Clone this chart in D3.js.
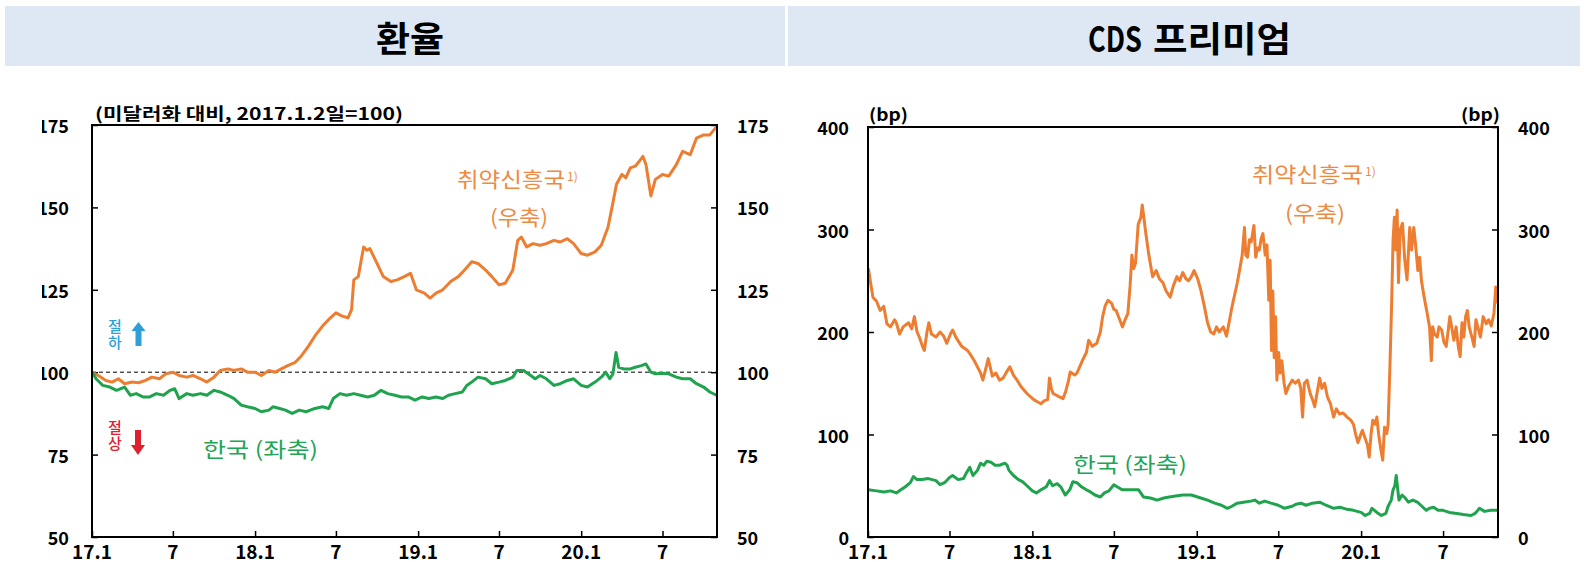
<!DOCTYPE html>
<html>
<head>
<meta charset="utf-8">
<script src="https://cdn.jsdelivr.net/npm/d3@7"></script>
<style>
  body { margin: 0; background: #fff; }
  svg { display: block; }
</style>
</head>
<body>
<svg id="chart" width="1584" height="563"></svg>
<script>
// ---- axis labels ----
const tickDates = ["2017-01-01", "2017-07-01", "2018-01-01", "2018-07-01", "2019-01-01", "2019-07-01", "2020-01-01", "2020-07-01"];
const tickLabels = ["17.1", "7", "18.1", "7", "19.1", "7", "20.1", "7"];
const fxTicks = [50, 75, 100, 125, 150, 175];
const cdsTicks = [0, 100, 200, 300, 400];

// ---- exchange rates vs USD (2017.1.2 = 100) ----
const fxEmerging = [
  ["2017-01-02",100],["2017-01-15",99],["2017-02-01",97.5],["2017-02-15",97],["2017-03-01",98],["2017-03-15",96.5],
  ["2017-04-01",97],["2017-04-15",96.8],["2017-05-01",97.5],["2017-05-15",98.5],["2017-06-01",98],["2017-06-15",99.5],
  ["2017-07-01",100],["2017-07-15",99],["2017-08-01",98.5],["2017-08-15",99],["2017-09-01",98],["2017-09-15",97],
  ["2017-10-01",98.5],["2017-10-15",100.5],["2017-11-01",101],["2017-11-15",100.5],["2017-12-01",101],["2017-12-15",100],
  ["2018-01-01",100],["2018-01-15",99],["2018-02-01",100.5],["2018-02-15",100],["2018-03-01",101],["2018-03-15",102],
  ["2018-04-01",103],["2018-04-15",105],["2018-05-01",108],["2018-05-15",111],["2018-06-01",114],["2018-06-15",116],
  ["2018-07-01",118],["2018-07-15",117],["2018-07-28",116.5],["2018-08-05",119],["2018-08-10",128],["2018-08-20",129],
  ["2018-09-01",138],["2018-09-08",137],["2018-09-15",137.5],["2018-10-01",133],["2018-10-15",129],["2018-11-01",127.5],
  ["2018-11-15",128],["2018-12-01",129],["2018-12-15",130],["2018-12-28",125],["2019-01-15",124],["2019-01-28",122.5],
  ["2019-02-10",124],["2019-02-25",125],["2019-03-15",127.5],["2019-04-01",129],["2019-04-15",131],["2019-05-01",133.5],
  ["2019-05-15",133],["2019-06-01",131],["2019-06-15",129],["2019-07-01",126.5],["2019-07-15",127],["2019-08-01",131],
  ["2019-08-12",140],["2019-08-20",141],["2019-09-01",138],["2019-09-15",139],["2019-10-01",138.5],["2019-10-15",139],
  ["2019-11-01",140],["2019-11-15",139.5],["2019-12-01",140.5],["2019-12-15",139],["2020-01-01",136],["2020-01-15",135.5],
  ["2020-02-01",136.5],["2020-02-15",138.5],["2020-03-01",144],["2020-03-10",150],["2020-03-20",157],["2020-04-01",160],
  ["2020-04-10",159],["2020-04-20",162],["2020-05-01",162.5],["2020-05-10",164],["2020-05-18",165.5],["2020-05-25",163],
  ["2020-06-05",153.5],["2020-06-15",158.5],["2020-07-01",160],["2020-07-15",159.5],["2020-08-01",163],["2020-08-15",167],
  ["2020-09-01",166],["2020-09-15",171],["2020-10-01",172],["2020-10-15",172],["2020-10-30",174.5]
];
const fxKorea = [
  ["2017-01-02",100],["2017-01-10",98],["2017-01-25",96],["2017-02-10",95.5],["2017-02-25",94.5],["2017-03-15",95.5],
  ["2017-03-28",93],["2017-04-10",93.5],["2017-04-25",92.5],["2017-05-10",92.5],["2017-05-25",93.5],["2017-06-10",93],
  ["2017-06-25",94.5],["2017-07-05",95],["2017-07-15",92],["2017-08-01",93.5],["2017-08-15",93],["2017-09-01",93.5],
  ["2017-09-15",93],["2017-10-01",94.5],["2017-10-15",94],["2017-11-01",93],["2017-11-15",92],["2017-12-01",90],
  ["2017-12-15",89.5],["2018-01-01",89],["2018-01-15",88],["2018-02-01",88.5],["2018-02-10",89.5],["2018-02-25",89],
  ["2018-03-10",88.5],["2018-03-25",87.5],["2018-04-10",88.5],["2018-04-25",88],["2018-05-15",89],["2018-06-01",89.5],
  ["2018-06-15",89],["2018-06-25",92],["2018-07-10",93.5],["2018-07-25",93],["2018-08-10",93.5],["2018-08-25",93],
  ["2018-09-10",92.5],["2018-09-25",93],["2018-10-10",94.5],["2018-10-25",93.5],["2018-11-10",93],["2018-11-25",92.5],
  ["2018-12-10",92.5],["2018-12-25",91.5],["2019-01-10",92.5],["2019-01-25",92],["2019-02-10",92.5],["2019-02-25",92],
  ["2019-03-10",93],["2019-03-25",93.5],["2019-04-10",94],["2019-04-20",96],["2019-05-01",97],["2019-05-15",98.5],
  ["2019-06-01",98],["2019-06-15",96.5],["2019-07-01",97],["2019-07-15",97.5],["2019-08-01",98.5],["2019-08-10",100.5],
  ["2019-08-25",100.5],["2019-09-10",99],["2019-09-20",98],["2019-10-01",99],["2019-10-15",98],["2019-11-01",96],
  ["2019-11-15",96.5],["2019-12-01",97.5],["2019-12-15",98],["2020-01-01",96],["2020-01-15",95.5],["2020-02-01",97],
  ["2020-02-15",98.5],["2020-02-25",100],["2020-03-05",98],["2020-03-12",99.5],["2020-03-19",106],["2020-03-25",101.5],
  ["2020-04-05",101],["2020-04-20",101],["2020-05-01",101.5],["2020-05-15",102],["2020-05-25",102.5],["2020-06-05",100],
  ["2020-06-15",99.5],["2020-07-01",99.7],["2020-07-15",99.5],["2020-08-01",98.5],["2020-08-15",98],["2020-09-01",98],
  ["2020-09-15",96.5],["2020-10-01",95.5],["2020-10-15",94],["2020-10-30",93]
];

// ---- CDS premium (bp) ----
const cdsEmerging = [
  ["2017-01-02",262],["2017-01-06",250],["2017-01-12",234],["2017-01-20",230],["2017-01-28",221],["2017-02-05",225],
  ["2017-02-12",208],["2017-02-20",205],["2017-03-01",212],["2017-03-05",209],["2017-03-12",198],["2017-03-20",205],
  ["2017-04-01",209],["2017-04-08",203],["2017-04-14",215],["2017-04-20",200],["2017-04-25",195],["2017-05-02",186],
  ["2017-05-06",182],["2017-05-12",200],["2017-05-16",209],["2017-05-22",198],["2017-06-01",195],["2017-06-10",200],
  ["2017-06-18",196],["2017-06-25",189],["2017-07-03",198],["2017-07-08",202],["2017-07-15",195],["2017-07-28",186],
  ["2017-08-10",182],["2017-08-15",179],["2017-08-25",172],["2017-09-01",166],["2017-09-08",160],["2017-09-13",153],
  ["2017-09-20",165],["2017-09-25",174],["2017-10-04",157],["2017-10-12",160],["2017-10-20",153],["2017-10-28",155],
  ["2017-11-06",162],["2017-11-12",166],["2017-11-20",158],["2017-11-28",153],["2017-12-08",146],["2017-12-20",140],
  ["2018-01-04",134],["2018-01-12",132],["2018-01-20",130],["2018-01-28",133],["2018-02-04",134],["2018-02-08",155],
  ["2018-02-12",145],["2018-02-16",140],["2018-02-25",138],["2018-03-01",137],["2018-03-10",135],["2018-03-16",142],
  ["2018-03-22",152],["2018-03-26",161],["2018-04-05",158],["2018-04-10",160],["2018-04-18",168],["2018-04-22",172],
  ["2018-05-01",180],["2018-05-06",192],["2018-05-14",186],["2018-05-24",189],["2018-06-01",200],["2018-06-06",215],
  ["2018-06-12",226],["2018-06-18",231],["2018-06-26",228],["2018-07-01",222],["2018-07-06",221],["2018-07-14",212],
  ["2018-07-20",205],["2018-07-26",212],["2018-08-01",218],["2018-08-06",245],["2018-08-10",275],["2018-08-14",262],
  ["2018-08-18",267],["2018-08-24",305],["2018-08-30",312],["2018-09-02",324],["2018-09-06",310],["2018-09-10",296],
  ["2018-09-16",277],["2018-09-25",254],["2018-10-03",260],["2018-10-10",252],["2018-10-18",248],["2018-10-25",240],
  ["2018-11-03",234],["2018-11-10",245],["2018-11-18",254],["2018-11-24",250],["2018-12-01",258],["2018-12-08",252],
  ["2018-12-14",250],["2018-12-20",254],["2018-12-26",260],["2019-01-03",252],["2019-01-10",241],["2019-01-18",225],
  ["2019-01-25",209],["2019-02-01",200],["2019-02-08",198],["2019-02-14",205],["2019-02-20",200],["2019-03-01",205],
  ["2019-03-08",196],["2019-03-15",212],["2019-03-20",224],["2019-03-28",240],["2019-04-01",248],["2019-04-08",265],
  ["2019-04-12",275],["2019-04-17",302],["2019-04-20",275],["2019-04-24",273],["2019-04-28",290],["2019-05-02",288],
  ["2019-05-08",304],["2019-05-12",273],["2019-05-16",282],["2019-05-20",280],["2019-05-24",291],["2019-05-28",296],
  ["2019-06-02",275],["2019-06-06",285],["2019-06-10",231],["2019-06-13",270],["2019-06-16",182],["2019-06-19",240],
  ["2019-06-22",175],["2019-06-25",215],["2019-06-28",153],["2019-07-02",180],["2019-07-05",160],["2019-07-09",172],
  ["2019-07-14",150],["2019-07-18",140],["2019-07-24",147],["2019-08-01",153],["2019-08-08",150],["2019-08-15",153],
  ["2019-08-20",145],["2019-08-24",117],["2019-08-28",150],["2019-09-03",153],["2019-09-10",140],["2019-09-16",133],
  ["2019-09-20",127],["2019-09-25",140],["2019-10-01",155],["2019-10-06",145],["2019-10-12",150],["2019-10-18",137],
  ["2019-10-25",130],["2019-11-01",117],["2019-11-07",125],["2019-11-14",120],["2019-11-22",121],["2019-12-01",117],
  ["2019-12-09",114],["2019-12-15",110],["2019-12-20",100],["2019-12-25",92],["2020-01-01",101],["2020-01-04",104],
  ["2020-01-10",96],["2020-01-15",90],["2020-01-19",78],["2020-01-23",100],["2020-01-27",114],["2020-02-01",110],
  ["2020-02-05",117],["2020-02-09",100],["2020-02-14",85],["2020-02-18",75],["2020-02-22",107],["2020-02-27",101],
  ["2020-03-01",110],["2020-03-05",166],["2020-03-09",231],["2020-03-12",290],["2020-03-15",312],["2020-03-18",280],
  ["2020-03-21",319],["2020-03-24",248],["2020-03-28",300],["2020-04-02",306],["2020-04-07",270],["2020-04-12",251],
  ["2020-04-18",302],["2020-04-22",280],["2020-04-27",302],["2020-05-01",285],["2020-05-06",260],["2020-05-10",273],
  ["2020-05-14",250],["2020-05-20",234],["2020-05-26",220],["2020-06-01",205],["2020-06-05",172],["2020-06-08",205],
  ["2020-06-12",198],["2020-06-18",195],["2020-06-22",205],["2020-06-28",202],["2020-07-03",190],["2020-07-08",186],
  ["2020-07-12",200],["2020-07-16",215],["2020-07-20",205],["2020-07-25",192],["2020-07-30",205],["2020-08-04",185],
  ["2020-08-08",176],["2020-08-12",209],["2020-08-16",195],["2020-08-20",215],["2020-08-24",221],["2020-08-28",205],
  ["2020-09-03",195],["2020-09-08",186],["2020-09-12",212],["2020-09-16",205],["2020-09-22",195],["2020-09-28",215],
  ["2020-10-05",208],["2020-10-10",212],["2020-10-16",206],["2020-10-22",218],["2020-10-26",244],["2020-10-30",228]
];
const cdsKorea = [
  ["2017-01-02",46],["2017-01-20",45],["2017-02-05",44],["2017-02-20",45],["2017-03-05",43],["2017-03-15",46],
  ["2017-03-25",49],["2017-04-05",53],["2017-04-12",59],["2017-04-20",56],["2017-05-01",56],["2017-05-15",57],
  ["2017-06-01",55],["2017-06-10",51],["2017-06-20",53],["2017-07-01",58],["2017-07-08",60],["2017-07-20",56],
  ["2017-08-01",57],["2017-08-08",63],["2017-08-15",68],["2017-08-22",60],["2017-09-01",65],["2017-09-08",72],
  ["2017-09-15",70],["2017-09-22",74],["2017-10-01",73],["2017-10-10",70],["2017-10-20",70],["2017-11-01",72],
  ["2017-11-06",70],["2017-11-10",65],["2017-11-20",60],["2017-12-01",56],["2017-12-10",54],["2017-12-20",50],
  ["2018-01-01",45],["2018-01-10",43],["2018-01-20",46],["2018-02-01",49],["2018-02-08",55],["2018-02-15",50],
  ["2018-02-25",52],["2018-03-05",49],["2018-03-15",41],["2018-03-25",46],["2018-04-01",54],["2018-04-10",53],
  ["2018-04-20",49],["2018-05-01",46],["2018-05-10",44],["2018-05-20",41],["2018-06-01",39],["2018-06-10",43],
  ["2018-06-20",45],["2018-07-01",51],["2018-07-08",49],["2018-07-20",46],["2018-08-01",46],["2018-08-15",46],
  ["2018-08-25",46],["2018-09-05",39],["2018-09-20",38],["2018-10-05",36],["2018-10-20",38],["2018-11-01",39],
  ["2018-11-15",40],["2018-12-01",41],["2018-12-20",41],["2019-01-10",38],["2019-01-25",36],["2019-02-10",33],
  ["2019-02-25",31],["2019-03-10",28],["2019-03-20",30],["2019-04-01",33],["2019-04-15",34],["2019-05-01",35],
  ["2019-05-10",36],["2019-05-20",33],["2019-06-01",35],["2019-06-15",33],["2019-07-01",31],["2019-07-15",28],
  ["2019-08-01",30],["2019-08-10",32],["2019-08-20",33],["2019-09-01",31],["2019-09-15",33],["2019-10-01",34],
  ["2019-10-15",31],["2019-11-01",28],["2019-11-15",29],["2019-12-01",27],["2019-12-15",26],["2020-01-01",24],
  ["2020-01-10",21],["2020-01-20",23],["2020-01-25",28],["2020-02-05",24],["2020-02-15",21],["2020-02-25",23],
  ["2020-03-01",30],["2020-03-08",36],["2020-03-12",46],["2020-03-16",50],["2020-03-19",60],["2020-03-22",48],
  ["2020-03-25",36],["2020-04-01",41],["2020-04-08",38],["2020-04-15",34],["2020-04-25",36],["2020-05-05",34],
  ["2020-05-15",30],["2020-05-25",26],["2020-06-01",28],["2020-06-10",29],["2020-06-20",26],["2020-07-01",26],
  ["2020-07-15",24],["2020-08-01",23],["2020-08-15",22],["2020-09-01",21],["2020-09-10",23],["2020-09-20",28],
  ["2020-10-01",25],["2020-10-15",26],["2020-10-30",26]
];

// ---- drawing ----
const parse = d3.utcParse("%Y-%m-%d");
const svg = d3.select("#chart");
const KR = "'Noto Sans CJK KR', 'Noto Sans', sans-serif";
const ORANGE = "#ED7D31", GREEN = "#1FA34E";
const dateDomain = [parse("2017-01-01"), parse("2020-10-31")];

function label(x, y, text, opts = {}) {
  const t = svg.append("text").attr("x", x).attr("y", y)
    .attr("dominant-baseline", "central")
    .attr("text-anchor", opts.anchor || "start")
    .attr("font-family", KR)
    .attr("font-weight", opts.weight || 400)
    .attr("font-size", opts.size || 20)
    .attr("fill", opts.color || "#000")
    .text(text);
  if (opts.width) t.attr("textLength", opts.width).attr("lengthAdjust", "spacingAndGlyphs");
  if (opts.clip) t.attr("clip-path", opts.clip);
  return t;
}

// a short word set vertically, one syllable under the other
function vertical(x, top, text, color) {
  svg.append("text").attr("x", x).attr("y", top)
    .attr("font-family", KR).attr("font-weight", 500).attr("font-size", 15)
    .attr("fill", color)
    .style("writing-mode", "vertical-rl").style("text-orientation", "upright")
    .style("letter-spacing", "1.5px")
    .text(text);
}

// header bands with panel titles
svg.append("rect").attr("x", 5).attr("y", 6).attr("width", 780).attr("height", 60).attr("fill", "#DDE8F4");
svg.append("rect").attr("x", 788).attr("y", 6).attr("width", 792).attr("height", 60).attr("fill", "#DDE8F4");
label(410, 36, "환율", {anchor: "middle", weight: 700, size: 35, width: 68});
label(1088, 36, "CDS", {weight: 700, size: 35, width: 54});
label(1153, 36, "프리미엄", {weight: 700, size: 35, width: 138});

function drawPanel(p) {
  const x = d3.scaleUtc().domain(dateDomain).range([p.left, p.right]);
  const y = d3.scaleLinear().domain(p.yDomain).range([p.bottom, p.top]);
  const g = svg.append("g");

  // inward ticks on both value axes and the time axis
  const yl = g.append("g").attr("transform", `translate(${p.left},0)`)
    .call(d3.axisRight(y).tickValues(p.ticks).tickSize(6).tickFormat(""));
  const yr = g.append("g").attr("transform", `translate(${p.right},0)`)
    .call(d3.axisLeft(y).tickValues(p.ticks).tickSize(6).tickFormat(""));
  const xb = g.append("g").attr("transform", `translate(0,${p.bottom})`)
    .call(d3.axisTop(x).tickValues(tickDates.map(parse)).tickSize(6).tickFormat(""));
  [yl, yr, xb].forEach(a => {
    a.select(".domain").remove();
    a.selectAll(".tick line").attr("stroke", "#000").attr("stroke-width", 1.5);
  });

  // tick labels
  p.ticks.forEach(v => {
    label(p.leftLabelX, y(v), v, {anchor: "end", weight: 700, size: 18, clip: p.leftClip});
    label(p.right + 20, y(v), v, {anchor: "start", weight: 700, size: 18});
  });
  tickDates.forEach((d, i) => {
    label(x(parse(d)), 550, tickLabels[i], {anchor: "middle", weight: 700, size: 19});
  });

  if (p.baseline !== undefined) {
    g.append("line").attr("x1", p.left).attr("x2", p.right)
      .attr("y1", y(p.baseline)).attr("y2", y(p.baseline))
      .attr("stroke", "#000").attr("stroke-width", 1).attr("stroke-dasharray", "4,3");
  }

  const line = d3.line().x(d => x(parse(d[0]))).y(d => y(d[1]));
  p.series.forEach(s => {
    g.append("path").datum(s.data).attr("d", line)
      .attr("fill", "none").attr("stroke", s.color).attr("stroke-width", 3)
      .attr("stroke-linejoin", "round");
  });

  // frame
  g.append("rect").attr("x", p.left).attr("y", p.top)
    .attr("width", p.right - p.left).attr("height", p.bottom - p.top)
    .attr("fill", "none").attr("stroke", "#000").attr("stroke-width", 2);
}

svg.append("clipPath").attr("id", "leftEdge")
  .append("rect").attr("x", 42).attr("y", 0).attr("width", 60).attr("height", 563);

drawPanel({
  left: 92, right: 717, top: 125, bottom: 537, yDomain: [50, 175], ticks: fxTicks,
  leftLabelX: 69, leftClip: "url(#leftEdge)", baseline: 100,
  series: [{data: fxEmerging, color: ORANGE}, {data: fxKorea, color: GREEN}]
});
drawPanel({
  left: 868, right: 1498, top: 127, bottom: 537, yDomain: [0, 400], ticks: cdsTicks,
  leftLabelX: 849,
  series: [{data: cdsEmerging, color: ORANGE}, {data: cdsKorea, color: GREEN}]
});

// units
label(95, 112, "(미달러화 대비, 2017.1.2일=100)", {weight: 700, size: 17, width: 308});
label(869, 113, "(bp)", {weight: 700, size: 17, width: 39});
label(1500, 113, "(bp)", {anchor: "end", weight: 700, size: 17, width: 39});

// series annotations
const TXT_OR = "#EE8A42", TXT_GR = "#22A555";
label(457, 178, "취약신흥국", {size: 21, color: TXT_OR, width: 108});
label(567, 175, "1)", {size: 12, color: TXT_OR});
label(490, 216, "(우축)", {size: 21, color: TXT_OR, width: 58});
label(203, 448, "한국 (좌축)", {size: 21, color: TXT_GR, width: 115});
label(1252, 173, "취약신흥국", {size: 21, color: TXT_OR, width: 111});
label(1365, 170, "1)", {size: 12, color: TXT_OR});
label(1285, 212, "(우축)", {size: 21, color: TXT_OR, width: 60});
label(1073, 463, "한국 (좌축)", {size: 21, color: TXT_GR, width: 114});

// depreciation / appreciation markers
const BLUE = "#2F9FD8", RED = "#E0202E";
vertical(115, 318.5, "절하", BLUE);
vertical(115, 419.5, "절상", RED);
svg.append("path").attr("fill", BLUE)
  .attr("d", "M138.5,322 L145.5,331 L141.5,331 L141.5,346 L135.5,346 L135.5,331 L131.5,331 Z");
svg.append("path").attr("fill", RED)
  .attr("d", "M138,455 L145,445 L141,445 L141,430 L135,430 L135,445 L131,445 Z");
</script>
</body>
</html>
